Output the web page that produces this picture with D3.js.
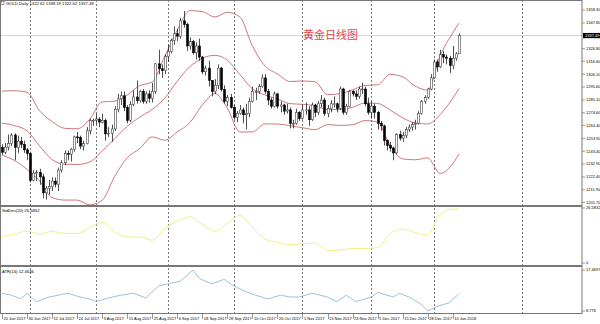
<!DOCTYPE html>
<html>
<head>
<meta charset="utf-8">
<script src="https://cdn.jsdelivr.net/npm/d3@7"></script>
<style>
  body { margin: 0; background: #fff; }
  svg { display: block; font-family: "Liberation Sans", Arial, sans-serif; }
</style>
</head>
<body>
<svg id="chart" width="600" height="324"></svg>
<script>
// GOLD daily candles, 20 Jun 2017 .. 12 Jan 2018 (one entry per bar)
const opens = [1246.5,1242.5,1246.6,1249.5,1256.5,1246.5,1251.5,1249,1244.5,1241.5,
  1219.5,1225.5,1226,1222.5,1209.5,1213,1214.5,1219,1216.5,1228,
  1234,1241.5,1241,1245,1255,1254.5,1247.5,1249.5,1260,1268.5,
  1268.5,1269.5,1267,1268.5,1257.5,1258,1261.5,1277.5,1286,1288.5,
  1279,1268.5,1281.5,1287.5,1284.5,1292,1284,1290,1286.5,1292,
  1314.5,1310.5,1309,1320.5,1324.5,1333.5,1339,1337,1349.5,1346.5,
  1329,1332.5,1323.5,1329,1320,1308,1311,1301,1292,1297,
  1311,1293.5,1284,1287,1279,1271,1274,1277,1273,1274,
  1284,1292,1292,1296,1303,1292,1285,1280,1290,1280,
  1281,1276,1277,1266,1266,1275,1270,1277,1277,1269,
  1281,1275,1282,1285,1274,1278,1282,1282,1278,1294,
  1275,1280,1292,1290,1288,1294,1294,1282,1275,1280,
  1275,1266,1264,1252,1248,1246,1242,1257,1254,1256,
  1261,1263,1265,1266,1274,1284,1287,1294,1303,1316,
  1312,1322,1320,1319,1313,1319,1322.62];
const highs = [1249,1250,1257,1258,1258,1256,1255,1252,1246,1243,
  1228,1228,1229,1225,1215,1220,1222,1222,1230,1236,
  1244,1244,1246,1256,1259,1256,1252,1263,1270,1270,
  1274,1271,1274,1270,1263,1265,1280,1290,1292,1292,
  1281,1284,1293,1301,1293,1294,1292,1293,1299,1315,
  1326,1314,1322,1330,1335,1345,1343,1352,1357.5,1348,
  1336,1334,1332,1335,1321,1313,1317,1301,1302,1314,
  1312,1297,1289,1290,1281,1276,1281,1279,1282,1287,
  1296,1295,1298,1306,1306,1294,1287,1292,1291,1284,
  1282,1282,1279,1269,1278,1276,1281,1283,1280,1283,
  1282,1284,1289,1287,1281,1285,1288,1283,1296,1295,
  1282,1293,1293,1293,1296,1299,1296,1287,1284,1282,
  1276,1268,1265,1253,1251,1247,1258,1260,1259,1263,
  1265,1267,1269,1276,1285,1289,1295,1306,1318,1318,
  1326,1325,1322,1321,1329,1324,1339.19];
const lows = [1240.5,1241,1244,1247.5,1236,1242,1246,1242,1236,1218,
  1219,1219,1216,1205,1204,1208,1211,1214,1211,1226,
  1232,1236,1235,1243,1250,1245,1244,1249,1257,1264,
  1265,1263,1266,1252,1255,1251,1260,1275,1281,1276,
  1266,1267,1280,1282,1283,1282,1282,1283,1283,1290,
  1306,1303,1306,1316,1323,1330,1333,1335,1344,1325,
  1326,1322,1318,1317,1306,1305,1296,1288,1290,1294,
  1292,1282,1280,1278,1269,1267,1273,1266,1261,1271,
  1283,1285,1290,1295,1290,1281,1278,1279,1278,1275,
  1273,1274,1262,1262,1265,1268,1269,1273,1264,1268,
  1271,1273,1279,1272,1271,1275,1279,1275,1277,1273,
  1273,1279,1288,1285,1286,1290,1280,1273,1270,1270,
  1261,1260,1248,1244,1243,1236,1241,1252,1251,1254,
  1259,1260,1261,1265,1273,1282,1286,1293,1302,1308,
  1311,1315,1314,1307,1310,1317,1322.62];
const closes = [1242.5,1246.6,1249.5,1256.5,1246.5,1251.5,1249,1244.5,1241.5,1219.5,
  1225.5,1226,1222.5,1209.5,1213,1214.5,1219,1216.5,1228,1234,
  1241.5,1241,1245,1255,1254.5,1247.5,1249.5,1260,1268.5,1268.5,
  1269.5,1267,1268.5,1257.5,1258,1261.5,1277.5,1286,1288.5,1279,
  1268.5,1281.5,1287.5,1284.5,1292,1284,1290,1286.5,1292,1314.5,
  1310.5,1309,1320.5,1324.5,1333.5,1339,1337,1349.5,1346.5,1329,
  1332.5,1323.5,1329,1320,1308,1311,1301,1292,1297,1311,
  1293.5,1284,1287,1279,1271,1274,1277,1273,1274,1284,
  1292,1292,1296,1303,1292,1285,1280,1290,1280,1281,
  1276,1277,1266,1266,1275,1270,1277,1277,1269,1281,
  1275,1282,1285,1274,1278,1282,1282,1278,1294,1275,
  1280,1292,1290,1288,1294,1294,1282,1275,1280,1275,
  1266,1264,1252,1248,1246,1242,1257,1254,1256,1261,
  1263,1265,1266,1274,1284,1287,1294,1303,1316,1312,
  1322,1320,1319,1313,1319,1322.62,1337.49];

// Bollinger bands(20) + StdDev(20), read at every 4th bar
const bandBar = [0,4,8,12,16,20,24,28,32,36,40,44,48,52,56,60,64,68,72,76,
  80,84,88,92,96,100,104,108,112,116,120,124,128,132,136,140,144,146];
const bandUpper = [1292.2,1292.6,1291.3,1276.3,1267.6,1262.0,1261.6,1269.3,1283.5,1284.1,
  1289.2,1296.7,1299.8,1320.7,1341.8,1357.8,1357.0,1352.6,1356.4,1352.6,
  1329.1,1312.8,1306.3,1300.1,1300.5,1299.9,1289.4,1290.2,1293.3,1296.9,
  1297.4,1305.9,1303.9,1296.4,1293.1,1321.3,1339.6,1347.6];
const bandMid = [1266.2,1264.2,1259.9,1247.7,1236.6,1232.8,1232.6,1234.5,1243.5,1253.5,
  1263.6,1271.1,1277.4,1286.5,1300.4,1312.2,1319.0,1321.4,1317.4,1305.8,
  1294.1,1289.2,1285.9,1282.1,1281.5,1280.4,1277.2,1277.3,1279.1,1282.6,
  1282.3,1276.9,1270.5,1266.4,1265.5,1273.3,1286.4,1294.4];
const bandLower = [1240.2,1235.8,1228.5,1219.1,1205.6,1203.6,1203.6,1199.7,1203.5,1222.9,
  1238.0,1245.5,1255.0,1252.3,1259.0,1266.6,1281.0,1290.2,1278.4,1259.0,
  1259.1,1265.6,1265.5,1264.1,1262.5,1260.9,1265.0,1264.4,1264.9,1268.3,
  1267.2,1247.9,1237.1,1236.4,1237.9,1225.3,1233.2,1241.2];
const stdDev = [13.0,14.2,15.7,14.3,15.5,14.6,14.5,17.4,20.0,15.3,
  12.8,12.8,11.2,17.1,20.7,22.8,19.0,15.6,19.5,23.4,
  17.5,11.8,10.2,9.0,9.5,9.75,6.1,6.45,7.1,7.16,
  7.56,14.5,16.7,15.0,13.8,24.0,26.6,26.58];

// ATR(14)
const atrBar = [0,3,6,8,11,15,21,25,29,30,34,38,42,46,50,53,57,61,63,67,71,74,
  77,81,85,89,92,95,99,104,107,110,113,118,120,125,127,130,134,136,139,143,146];
const atrVal = [12.53,12.13,11.35,12.53,10.75,11.74,12.53,11.74,11.15,10.75,11.54,12.13,
  12.53,11.54,14.11,14.51,15.10,17.47,15.69,14.51,15.49,14.11,13.12,12.13,11.35,12.13,
  11.74,11.74,12.53,11.74,10.75,12.13,10.75,11.74,12.73,11.74,12.53,11.74,10.16,8.78,
  9.76,10.55,12.46];

// axis labels
const priceTicks = ["1358.30","1347.80","1326.80","1316.60","1306.10","1295.60","1285.10",
  "1274.60","1264.40","1253.90","1243.40","1232.90","1222.40","1211.90","1201.70"];
const dateLabels = ["20 Jun 2017","30 Jun 2017","12 Jul 2017","24 Jul 2017","3 Aug 2017",
  "15 Aug 2017","25 Aug 2017","6 Sep 2017","18 Sep 2017","28 Sep 2017","10 Oct 2017",
  "20 Oct 2017","1 Nov 2017","13 Nov 2017","23 Nov 2017","5 Dec 2017","15 Dec 2017",
  "28 Dec 2017","10 Jan 2018"];
const gridBars = [9, 30, 53, 74, 96, 118, 138, 166]; // month separators
const lastPrice = 1337.49;

const svg = d3.select("#chart");
const plotRight = 582;
const mainTop = 0, mainBottom = 205;
const stdTop = 207, stdBottom = 265;
const atrTop = 267, atrBottom = 313;

const x = d3.scaleLinear().domain([0, 146]).range([2, 459]);
const y = d3.scaleLinear().domain([1201.7, 1358.3]).range([202.4, 10]);
const yStd = d3.scaleLinear().domain([0, 26.5832]).range([263, 209]);
const yAtr = d3.scaleLinear().domain([8.776, 17.4697]).range([311, 270]);

// clip each window
const defs = svg.append("defs");
[["clipMain", mainTop, mainBottom], ["clipStd", stdTop, stdBottom], ["clipAtr", atrTop, atrBottom]]
  .forEach(([id, t, b]) => {
    defs.append("clipPath").attr("id", id)
      .append("rect").attr("x", 0).attr("y", t).attr("width", plotRight).attr("height", b - t);
  });

// vertical dotted grid
svg.append("g").selectAll("line").data(gridBars).join("line")
  .attr("x1", d => Math.round(x(d)) + 0.5).attr("x2", d => Math.round(x(d)) + 0.5)
  .attr("y1", 0).attr("y2", atrBottom)
  .attr("stroke", "#555").attr("stroke-width", 0.8).attr("stroke-dasharray", "2,2");

// bid line
svg.append("line")
  .attr("x1", 0).attr("x2", plotRight).attr("y1", y(lastPrice)).attr("y2", y(lastPrice))
  .attr("stroke", "#c8c8c8").attr("stroke-width", 0.8);

const main = svg.append("g").attr("clip-path", "url(#clipMain)");

// bollinger bands
const bandLine = (vals) => d3.line()
  .x((d, i) => x(bandBar[i])).y(d => y(d)).curve(d3.curveMonotoneX)(vals);
[bandUpper, bandMid, bandLower].forEach(vals => {
  main.append("path").attr("d", bandLine(vals))
    .attr("fill", "none").attr("stroke", "#c0555a").attr("stroke-width", 0.8);
});

// candles
const bars = d3.range(opens.length);
main.append("g").selectAll("line").data(bars).join("line")
  .attr("x1", i => Math.round(x(i)) + 0.5).attr("x2", i => Math.round(x(i)) + 0.5)
  .attr("y1", i => y(highs[i])).attr("y2", i => y(lows[i]))
  .attr("stroke", "#222").attr("stroke-width", 0.8);
main.append("g").selectAll("rect").data(bars).join("rect")
  .attr("x", i => Math.round(x(i)) - 0.5)
  .attr("width", 2)
  .attr("y", i => y(Math.max(opens[i], closes[i])))
  .attr("height", i => Math.max(0.8, Math.abs(y(opens[i]) - y(closes[i]))))
  .attr("fill", i => closes[i] >= opens[i] ? "#fff" : "#000")
  .attr("stroke", i => closes[i] >= opens[i] ? "#444" : "#000")
  .attr("stroke-width", 0.6);

// chart caption
svg.append("text").attr("x", 303).attr("y", 39)
  .attr("font-family", "'Noto Sans CJK SC', sans-serif")
  .attr("font-size", "11px").attr("fill", "#e0474c")
  .text("黄金日线图");

svg.append("rect").attr("x", 1).attr("y", 1.5).attr("width", 3).attr("height", 3)
  .attr("fill", "#fff").attr("stroke", "#444").attr("stroke-width", 0.5);
svg.append("text").attr("x", 6).attr("y", 5).attr("font-size", "4.2px").attr("fill", "#000")
  .text("GOLD,Daily  1322.62 1339.19 1322.62 1337.49");

// StdDev window
svg.append("path").attr("clip-path", "url(#clipStd)")
  .attr("d", d3.line().x((d, i) => x(bandBar[i])).y(d => yStd(d)).curve(d3.curveMonotoneX)(stdDev))
  .attr("fill", "none").attr("stroke", "#f2ee86").attr("stroke-width", 1);
svg.append("text").attr("x", 2).attr("y", 212).attr("font-size", "4.2px").attr("fill", "#000")
  .text("StdDev(20) 26.5832");

// ATR window
svg.append("path").attr("clip-path", "url(#clipAtr)")
  .attr("d", d3.line().x((d, i) => x(atrBar[i])).y(d => yAtr(d))(atrVal))
  .attr("fill", "none").attr("stroke", "#7fb4d2").attr("stroke-width", 0.8);
svg.append("text").attr("x", 2).attr("y", 273).attr("font-size", "4.2px").attr("fill", "#000")
  .text("ATR(14) 12.4636");

// frame and window separators
svg.append("rect").attr("x", 0.5).attr("y", 0.5).attr("width", plotRight - 0.5).attr("height", atrBottom)
  .attr("fill", "none").attr("stroke", "#777").attr("stroke-width", 1);
[mainBottom + 1, stdBottom + 1].forEach(sy => {
  svg.append("rect").attr("x", 0).attr("y", sy - 1).attr("width", plotRight).attr("height", 2)
    .attr("fill", "#777");
});

// price axis
const axis = svg.append("g").attr("font-size", "4px").attr("fill", "#000");
axis.selectAll("line").data(priceTicks).join("line")
  .attr("x1", plotRight).attr("x2", plotRight + 3)
  .attr("y1", d => y(+d)).attr("y2", d => y(+d))
  .attr("stroke", "#555").attr("stroke-width", 0.6);
axis.selectAll("text").data(priceTicks).join("text")
  .attr("x", plotRight + 4).attr("y", d => y(+d) + 1.4).text(d => d);

svg.append("rect").attr("x", plotRight + 1).attr("y", y(lastPrice) - 2.6)
  .attr("width", 17).attr("height", 5.2).attr("fill", "#000");
svg.append("text").attr("x", plotRight + 3).attr("y", y(lastPrice) + 1.4)
  .attr("font-size", "4px").attr("fill", "#fff").text(lastPrice.toFixed(2));

// indicator scale labels
[[yStd(26.5832) - 1, "26.5832"], [yStd(0), "0"], [yAtr(17.4697), "17.4697"], [yAtr(8.776), "8.776"]]
  .forEach(([py, t]) => {
    svg.append("line").attr("x1", plotRight).attr("x2", plotRight + 3).attr("y1", py).attr("y2", py)
      .attr("stroke", "#555").attr("stroke-width", 0.6);
    svg.append("text").attr("x", plotRight + 4).attr("y", py + 1.4).attr("font-size", "4px").text(t);
  });

// time axis
const timeAxis = svg.append("g");
timeAxis.selectAll("line").data(dateLabels).join("line")
  .attr("x1", (d, k) => Math.round(x(k * 8)) + 0.5).attr("x2", (d, k) => Math.round(x(k * 8)) + 0.5)
  .attr("y1", atrBottom).attr("y2", atrBottom + 6)
  .attr("stroke", "#555").attr("stroke-width", 0.6);
timeAxis.selectAll("text").data(dateLabels).join("text")
  .attr("x", (d, k) => x(k * 8) + 1.5).attr("y", 319.5)
  .attr("font-size", "4px").attr("fill", "#000").text(d => d);
</script>
</body>
</html>
